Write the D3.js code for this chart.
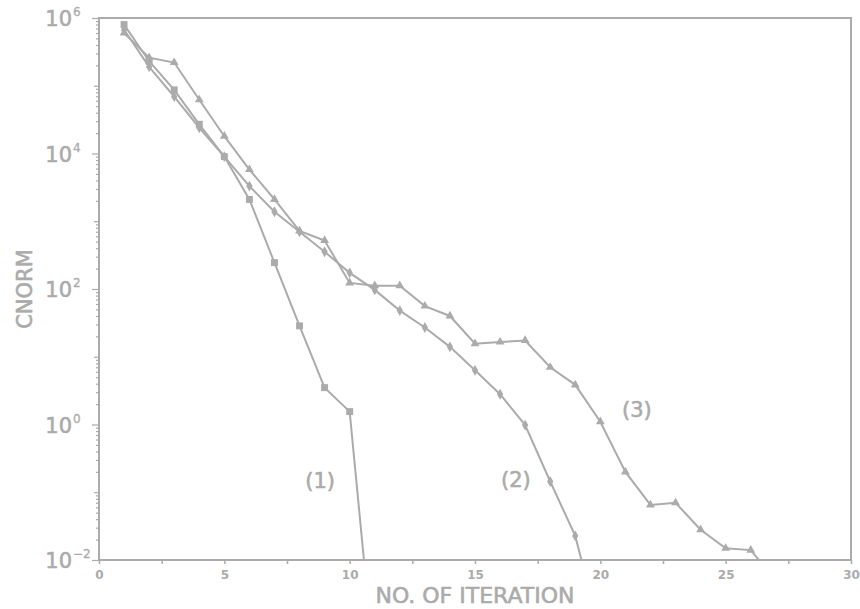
<!DOCTYPE html>
<html>
<head>
<meta charset="utf-8">
<script src="https://cdn.jsdelivr.net/npm/d3@7"></script>
<style>
  html, body { margin: 0; padding: 0; background: #fff; }
  svg { display: block; }
</style>
</head>
<body>
<div id="chart"></div>
<script>
const width = 860
const height = 609
const grey = '#ababab'

// iteration numbers and CNORM values
const iter1 = [1, 2, 3, 4, 5, 6, 7, 8, 9, 10, 11]
const cnorm1 = [8e5, 2.3e5, 8.7e4, 2.7e4, 9e3, 2.1e3, 245, 28.6, 3.5, 1.55, 2.2e-4]

const iter2 = [1, 2, 3, 4, 5, 6, 7, 8, 9, 10, 11, 12, 13, 14, 15, 16, 17, 18, 19, 20]
const cnorm2 = [6.7e5, 1.9e5, 6.9e4, 2.4e4, 9e3, 3.3e3, 1.38e3, 700, 355, 173, 97, 48, 27, 14, 6.3, 2.8, 0.98, 0.144, 0.0227, 8e-4]

const iter3 = [1, 2, 3, 4, 5, 6, 7, 8, 9, 10, 11, 12, 13, 14, 15, 16, 17, 18, 19, 20, 21, 22, 23, 24, 25, 26, 27]
const cnorm3 = [6e5, 2.6e5, 2.2e5, 6.2e4, 1.8e4, 5.8e3, 2.1e3, 720, 520, 123, 112, 112, 56, 40, 15.6, 16.5, 17.4, 7.0, 3.85, 1.1, 0.2, 0.065, 0.07, 0.028, 0.0149, 0.014, 0.005]

const xTicks = [0, 2.5, 5, 7.5, 10, 12.5, 15, 17.5, 20, 22.5, 25, 27.5, 30]
const yExponents = [-2, 0, 2, 4, 6]
const curveLabels = ['(1)', '(2)', '(3)']
const labelAt = [[8.82, 0.115], [16.63, 0.12], [21.46, 1.3]]

const x = d3.scaleLinear().domain([0, 30]).range([99, 851])
const y = d3.scaleLog().domain([1e-2, 1e6]).range([560, 18])

const svg = d3.select('#chart')
  .append('svg')
  .attr('width', width)
  .attr('height', height)
  .style('font-family', '"DejaVu Sans", sans-serif')

svg.append('clipPath')
  .attr('id', 'plot')
  .append('rect')
  .attr('x', x(0))
  .attr('y', y(1e6))
  .attr('width', x(30) - x(0))
  .attr('height', y(1e-2) - y(1e6))

// x axis ticks
const xAxis = svg.append('g')
  .attr('transform', `translate(0,${y(1e-2)})`)
  .call(d3.axisBottom(x)
    .tickValues(xTicks)
    .tickSize(4)
    .tickPadding(6)
    .tickFormat(d => d % 5 === 0 ? d : ''))
xAxis.select('.domain').remove()
xAxis.selectAll('line').attr('stroke', grey).attr('stroke-width', 1.5)
xAxis.selectAll('text')
  .attr('fill', grey)
  .style('font-size', '12px')
  .style('font-weight', 'bold')
  .style('font-family', '"DejaVu Sans", sans-serif')

// y axis ticks (log minors)
const yMinor = []
for (let k = -2; k < 6; k++) {
  for (let m = 1; m < 10; m++) yMinor.push(m * Math.pow(10, k))
}
yMinor.push(1e6)
const yAxis = svg.append('g')
  .attr('transform', `translate(${x(0)},0)`)
  .call(d3.axisLeft(y)
    .tickValues(yMinor)
    .tickSize(3)
    .tickFormat(''))
yAxis.select('.domain').remove()
yAxis.selectAll('line')
  .attr('stroke', grey)
  .attr('stroke-width', 1.2)
  .attr('x2', d => {
    const e = Math.log10(d)
    if (Math.abs(e - Math.round(e)) < 1e-9) return Math.round(e) % 2 === 0 ? -7 : -5
    return -3
  })

// frame
svg.append('rect')
  .attr('x', x(0))
  .attr('y', y(1e6))
  .attr('width', x(30) - x(0))
  .attr('height', y(1e-2) - y(1e6))
  .attr('fill', 'none')
  .attr('stroke', grey)
  .attr('stroke-width', 2)

// y labels 10^n
const yLab = svg.append('g').selectAll('g')
  .data(yExponents)
  .enter()
  .append('g')
  .attr('transform', d => `translate(0,${y(Math.pow(10, d))})`)
yLab.append('text')
  .attr('x', 72)
  .attr('y', 8)
  .attr('text-anchor', 'end')
  .attr('fill', grey)
  .attr('stroke', grey)
  .attr('stroke-width', 0.6)
  .style('font-size', '21px')
  .text('10')
yLab.append('text')
  .attr('x', 73)
  .attr('y', -2)
  .attr('fill', grey)
  .attr('stroke', grey)
  .attr('stroke-width', 0.3)
  .style('font-size', '12px')
  .text(d => d < 0 ? '\u2212' + Math.abs(d) : d)

// axis titles
svg.append('text')
  .attr('x', 475)
  .attr('y', 603)
  .attr('text-anchor', 'middle')
  .attr('fill', grey)
  .attr('stroke', grey)
  .attr('stroke-width', 0.6)
  .style('font-size', '22px')
  .text('NO. OF ITERATION')

svg.append('text')
  .attr('transform', 'translate(32,289) rotate(-90)')
  .attr('text-anchor', 'middle')
  .attr('fill', grey)
  .attr('stroke', grey)
  .attr('stroke-width', 0.6)
  .style('font-size', '21px')
  .text('CNORM')

// series
const series = [
  { xs: iter1, ys: cnorm1, symbol: d3.symbolSquare, size: 48 },
  { xs: iter2, ys: cnorm2, symbol: d3.symbolDiamond, size: 34 },
  { xs: iter3, ys: cnorm3, symbol: d3.symbolTriangle, size: 34 }
]

const line = d3.line()
  .x(d => x(d[0]))
  .y(d => y(d[1]))

const plot = svg.append('g').attr('clip-path', 'url(#plot)')

series.forEach(s => {
  const pts = s.xs.map((v, i) => [v, s.ys[i]])
  plot.append('path')
    .datum(pts)
    .attr('d', line)
    .attr('fill', 'none')
    .attr('stroke', grey)
    .attr('stroke-width', 2)
  plot.selectAll(null)
    .data(pts)
    .enter()
    .append('path')
    .attr('d', d3.symbol().type(s.symbol).size(s.size))
    .attr('transform', d => `translate(${x(d[0])},${y(d[1])})`)
    .attr('fill', grey)
})

// curve labels
svg.append('g').selectAll('text')
  .data(curveLabels)
  .enter()
  .append('text')
  .attr('x', (d, i) => x(labelAt[i][0]))
  .attr('y', (d, i) => y(labelAt[i][1]))
  .attr('text-anchor', 'middle')
  .attr('fill', grey)
  .attr('stroke', grey)
  .attr('stroke-width', 0.6)
  .style('font-size', '21px')
  .text(d => d)
</script>
</body>
</html>
